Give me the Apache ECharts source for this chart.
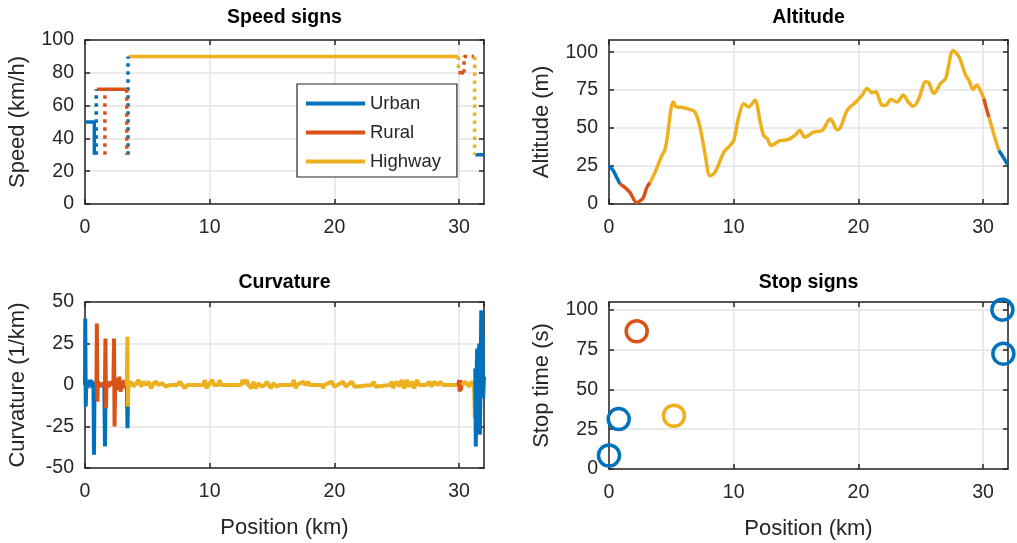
<!DOCTYPE html>
<html>
<head>
<meta charset="utf-8">
<script src="https://cdn.jsdelivr.net/npm/echarts@6/dist/echarts.min.js"></script>
<style>
  html, body { margin: 0; padding: 0; background: #fff; }
  #chart { width: 1017px; height: 543px; }
</style>
</head>
<body>
<div id="chart"></div>
<script>
// ---- data (x = position in km) ----
// speed signs: solid = posted limit, dotted = transitions
const speedUrbanSolid = [[[0, 50], [0.75, 50], [0.75, 30]], [[31.3, 30], [32, 30]]];
const speedUrbanDotted = [[[0.9, 30], [0.9, 70]], [[3.45, 30], [3.45, 90]]];
const speedRuralSolid = [[[0.95, 70], [3.3, 70]], [[29.95, 80], [30.4, 80]]];
const speedRuralDotted = [[[1.6, 30], [1.6, 70]], [[3.35, 70], [3.35, 30]], [[30.4, 80], [30.4, 90], [31.2, 90]]];
const speedHighwaySolid = [[[3.5, 90], [29.9, 90]]];
const speedHighwayDotted = [[[29.95, 90], [29.95, 80]], [[31.25, 90], [31.25, 30]]];

// altitude (m)
const altUrbanA = [[0, 25.2], [0.35, 21.9], [0.62, 17.5], [0.88, 13.1]];
const altRuralA = [[0.88, 13.1], [1.29, 10.8], [1.69, 7.5], [2.22, 0.9], [2.49, 2], [2.76, 4.2], [3.03, 10.8], [3.29, 14.1]];
const altHighwayA = [[3.29, 14.1], [3.69, 20.8], [4.23, 31.8], [4.45, 35], [4.62, 41], [4.8, 52], [5.0, 64], [5.17, 67.2],
  [5.32, 64.5], [5.5, 63.9], [6.0, 63.4], [6.4, 62.5], [6.9, 60.6], [7.3, 50.6], [7.7, 33], [8.1, 18.6], [8.5, 20.8],
  [9.2, 34], [9.7, 38.5], [10.0, 41.8], [10.4, 57.3], [10.8, 66.1], [11.2, 63.9], [11.7, 68.3], [12.1, 55], [12.4, 45.1],
  [12.7, 42.9], [13.0, 38.5], [13.7, 41.8], [14.3, 42.3], [14.9, 45.1], [15.3, 48.4], [15.7, 44], [16.4, 47.3],
  [17.1, 48.4], [17.75, 56.2], [18.3, 48.9], [18.55, 50.2], [19.1, 61.7], [19.8, 67.2], [20.3, 71.7], [20.7, 76.1],
  [21.1, 73.2], [21.4, 73.9], [21.9, 65], [22.2, 65], [22.6, 68.8], [23.1, 67.2], [23.6, 71.7], [24.0, 67.2],
  [24.4, 64.4], [24.8, 68.3], [25.4, 80.5], [25.65, 79.8], [26.05, 72.8], [26.6, 79.4], [27.0, 82.7], [27.6, 101.1],
  [28.06, 97.1], [28.6, 84.9], [28.86, 81.6], [29.2, 75.4], [29.5, 78.3], [29.8, 74.5], [30.06, 69.5]];
const altRuralB = [[30.06, 69.5], [30.3, 62], [30.47, 57.3]];
const altHighwayB = [[30.47, 57.3], [30.9, 45], [31.27, 35.2]];
const altUrbanB = [[31.27, 35.2], [31.6, 31], [31.94, 26.3]];

// curvature (1/km)
const curvUrbanA = [[0, 0], [0.02, 40], [0.06, -13], [0.1, 1], [0.2, -2], [0.3, 3], [0.4, 0], [0.5, 3], [0.6, -2],
  [0.68, 1], [0.72, -42], [0.76, -3], [0.85, 2], [0.92, 0]];
const curvUrbanB = [[1.55, 0], [1.6, -37], [1.65, 0]];
const curvUrbanC = [[3.36, 0], [3.41, -26], [3.46, 0]];
const curvRuralA = [[0.92, 0], [0.95, 37], [0.99, -10], [1.04, 2], [1.2, -1], [1.4, 1], [1.6, 0], [1.64, 28],
  [1.68, -14], [1.73, 2], [1.9, -1], [2.1, 2], [2.28, 0], [2.33, 28], [2.37, -25], [2.42, 1], [2.55, 4], [2.65, -3],
  [2.75, 5], [2.85, -4], [2.95, 2], [3.05, -2], [3.15, 3], [3.25, -1], [3.35, 0]];
const curvHighwayA = [[3.35, 0], [3.4, 29], [3.44, -13], [3.48, 0], [3.7, 2], [3.9, -1], [4.1, 1], [4.3, 3], [4.5, -1],
  [4.7, 2], [4.9, 0], [5.1, 2], [5.3, -2], [5.5, 1], [5.7, 2], [5.9, 0], [6.2, 1], [6.5, -1], [6.8, 0], [7.4, 0],
  [7.6, 2], [7.8, 0], [8.0, -2], [8.2, 0], [9.5, 0], [9.6, 3], [9.75, -2], [9.9, 0], [10.2, 3], [10.35, 0], [10.7, 0],
  [10.8, 3], [10.9, 0], [12.5, 0], [12.65, 3], [12.8, 1], [13.0, 3], [13.1, 0], [13.35, -2], [13.5, 2], [13.7, -2],
  [13.9, 1], [14.2, -1], [14.4, 0], [14.6, 2], [14.9, -2], [15.1, 1], [15.4, -1], [15.6, 0], [16.6, 0], [16.75, 3],
  [16.9, -2], [17.0, 0], [17.5, 2], [17.7, 0], [17.9, 2], [18.0, 0], [19.0, 0], [19.1, -2], [19.2, 0], [19.8, 2],
  [20.0, -1], [20.1, 0], [20.7, 2], [20.9, -1], [21.0, 0], [21.4, 2], [21.6, -1], [21.7, 0], [23.0, 0], [23.15, 2],
  [23.3, -1], [23.4, 0], [24.45, 0], [24.6, 2], [24.7, -2], [24.8, 0], [25.0, 2], [25.2, -1], [25.4, 3], [25.6, -2],
  [25.8, 3], [26.0, -1], [26.2, 2], [26.4, -2], [26.6, 3], [26.8, 0], [27.4, 0], [27.6, 2], [27.8, -1], [28.0, 2],
  [28.3, 0], [28.5, 2], [28.7, 0], [29.95, 0]];
const curvRuralB = [[29.95, 0], [30.0, 3], [30.05, -4], [30.1, 3], [30.15, -3], [30.2, 0]];
const curvHighwayB = [[30.2, 0], [30.5, 2], [30.8, -1], [31.0, 2], [31.2, 0], [31.26, -20]];
const curvUrbanD = [[31.3, 10], [31.34, -37], [31.38, -5], [31.45, 22], [31.5, -10], [31.55, 5], [31.62, 25],
  [31.67, -30], [31.72, 0], [31.78, 45], [31.83, -3], [31.88, 30], [31.93, -8], [32, 5]];

// stop signs: [position, stop time (s)]
const stopUrban = [[0, 8.5], [0.78, 31.4], [31.55, 100.2], [31.63, 72.5]];
const stopRural = [[2.22, 86.6]];
const stopHighway = [[5.21, 33.5]];

const xTicks = { min: 0, max: 32, interval: 10 };

// ---- styling ----
const C_URBAN = '#0072BD';
const C_RURAL = '#D95319';
const C_HIGHWAY = '#EDB120';
const INK = '#262626';
const GRID_C = '#e3e3e3';
const FONT = "'Liberation Sans', Arial, sans-serif";

const grids = [
  { left: 85, top: 40, width: 399, height: 164 },
  { left: 609, top: 40, width: 399, height: 164 },
  { left: 85, top: 302, width: 399, height: 166 },
  { left: 609, top: 302, width: 399, height: 167 },
];

function xAxes(g, name) {
  const line = { onZero: false, lineStyle: { color: INK, width: 1.5 } };
  const tick = { inside: true, length: 5, lineStyle: { color: INK, width: 1.5 } };
  return [
    {
      type: 'value', gridIndex: g, position: 'bottom', ...xTicks,
      name: name || '', nameLocation: 'middle', nameGap: 49,
      nameTextStyle: { fontSize: 22, color: INK, fontFamily: FONT },
      axisLine: line, axisTick: tick,
      axisLabel: { fontSize: 19.5, color: INK, fontFamily: FONT, margin: 14, showMaxLabel: false },
      splitLine: { show: true, lineStyle: { color: GRID_C, width: 1.5 } },
    },
    {
      type: 'value', gridIndex: g, position: 'top', ...xTicks,
      axisLine: line, axisTick: tick, axisLabel: { show: false }, splitLine: { show: false },
    },
  ];
}

function yAxes(g, name, min, max, interval, hideMax) {
  const line = { onZero: false, lineStyle: { color: INK, width: 1.5 } };
  const tick = { inside: true, length: 5, lineStyle: { color: INK, width: 1.5 } };
  return [
    {
      type: 'value', gridIndex: g, position: 'left', min, max, interval,
      name, nameLocation: 'middle', nameGap: 56,
      nameTextStyle: { fontSize: 22, color: INK, fontFamily: FONT },
      axisLine: line, axisTick: tick,
      axisLabel: { fontSize: 19.5, color: INK, fontFamily: FONT, margin: 11, showMaxLabel: !hideMax },
      splitLine: { show: true, lineStyle: { color: GRID_C, width: 1.5 } },
    },
    {
      type: 'value', gridIndex: g, position: 'right', min, max, interval,
      axisLine: line, axisTick: tick, axisLabel: { show: false }, splitLine: { show: false },
    },
  ];
}

function lineSeries(name, color, data, g, width, dotted, smooth) {
  return {
    type: 'line', name, data, xAxisIndex: 2 * g, yAxisIndex: 2 * g,
    symbol: 'none', showSymbol: false, smooth: smooth || false,
    lineStyle: { color, width, type: dotted ? [3.5, 4.5] : 'solid', cap: 'butt' },
    itemStyle: { color },
    animation: false,
  };
}

function segs(name, color, list, dotted) {
  return list.map((d) => lineSeries(name, color, d, 0, 3.5, dotted));
}

function stops(name, color, data) {
  return {
    type: 'scatter', name, data, xAxisIndex: 6, yAxisIndex: 6,
    symbol: 'circle', symbolSize: 21, clip: false,
    itemStyle: { color: 'rgba(0,0,0,0)', borderColor: color, borderWidth: 3.5, opacity: 1 },
    emphasis: { disabled: true },
    animation: false,
  };
}

const series = [
  ...segs('Urban', C_URBAN, speedUrbanSolid, false),
  ...segs('Rural', C_RURAL, speedRuralSolid, false),
  ...segs('Highway', C_HIGHWAY, speedHighwaySolid, false),
  ...segs('Urban:', C_URBAN, speedUrbanDotted, true),
  ...segs('Rural:', C_RURAL, speedRuralDotted, true),
  ...segs('Highway:', C_HIGHWAY, speedHighwayDotted, true),

  lineSeries('Urban', C_URBAN, altUrbanA, 1, 3.5, false, 0.3),
  lineSeries('Rural', C_RURAL, altRuralA, 1, 3.5, false, 0.3),
  lineSeries('Highway', C_HIGHWAY, altHighwayA, 1, 3.5, false, 0.3),
  lineSeries('Rural', C_RURAL, altRuralB, 1, 3.5, false, 0.3),
  lineSeries('Highway', C_HIGHWAY, altHighwayB, 1, 3.5, false, 0.3),
  lineSeries('Urban', C_URBAN, altUrbanB, 1, 3.5, false, 0.3),

  lineSeries('Urban', C_URBAN, curvUrbanA, 2, 4),
  lineSeries('Urban', C_URBAN, curvUrbanB, 2, 4),
  lineSeries('Urban', C_URBAN, curvUrbanC, 2, 4),
  lineSeries('Rural', C_RURAL, curvRuralA, 2, 4),
  lineSeries('Highway', C_HIGHWAY, curvHighwayA, 2, 4),
  lineSeries('Rural', C_RURAL, curvRuralB, 2, 4),
  lineSeries('Highway', C_HIGHWAY, curvHighwayB, 2, 4),
  lineSeries('Urban', C_URBAN, curvUrbanD, 2, 4),

  stops('Urban', C_URBAN, stopUrban),
  stops('Rural', C_RURAL, stopRural),
  stops('Highway', C_HIGHWAY, stopHighway),
];

function title(text, x, y) {
  return {
    type: 'text', x, y, z: 100,
    style: { text, fontSize: 19.5, fontWeight: 'bold', fontFamily: FONT, fill: '#000', align: 'center', verticalAlign: 'middle' },
  };
}

const option = {
  backgroundColor: '#fff',
  animation: false,
  grid: grids,
  xAxis: [...xAxes(0), ...xAxes(1), ...xAxes(2, 'Position (km)'), ...xAxes(3, 'Position (km)')],
  yAxis: [
    ...yAxes(0, 'Speed (km/h)', 0, 100, 20, false),
    ...yAxes(1, 'Altitude (m)', 0, 108, 25, true),
    ...yAxes(2, 'Curvature (1/km)', -50, 50, 25, false),
    ...yAxes(3, 'Stop time (s)', 0, 105, 25, true),
  ],
  legend: {
    data: ['Urban', 'Rural', 'Highway'],
    orient: 'vertical', left: 297, top: 84,
    icon: 'rect', itemWidth: 59, itemHeight: 4, itemGap: 10,
    padding: [10, 16, 6, 9],
    borderColor: INK, borderWidth: 1.2, backgroundColor: '#fff',
    selectedMode: false,
    textStyle: { fontSize: 18.5, color: INK, fontFamily: FONT, lineHeight: 19 },
  },
  graphic: [
    title('Speed signs', 284.5, 18),
    title('Altitude', 808.5, 18),
    title('Curvature', 284.5, 283),
    title('Stop signs', 808.5, 283),
  ],
  series,
};

const chart = echarts.init(document.getElementById('chart'));
chart.setOption(option);
</script>
</body>
</html>
